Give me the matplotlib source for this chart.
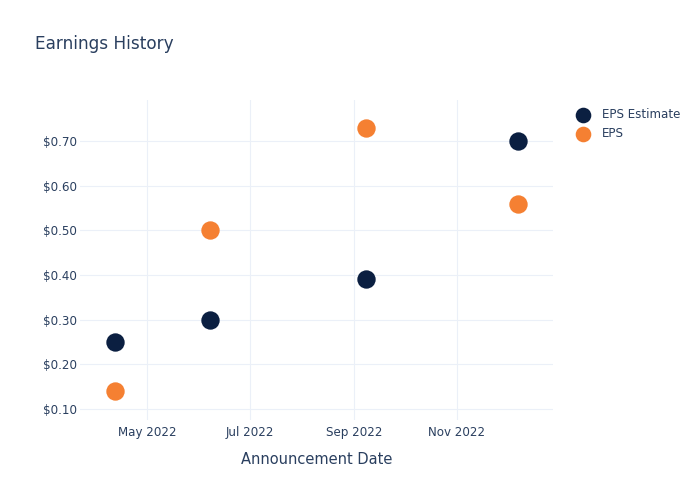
import datetime as dt
import matplotlib
matplotlib.use("Agg")
import matplotlib.pyplot as plt
import matplotlib.dates as mdates
from matplotlib.ticker import FuncFormatter

dates = [dt.date(2022, 4, 12), dt.date(2022, 6, 7), dt.date(2022, 9, 8), dt.date(2022, 12, 7)]
eps_estimate = [0.25, 0.30, 0.39, 0.70]
eps_actual = [0.14, 0.50, 0.73, 0.56]

text_color = '#2a3f5f'
grid_color = '#ebf0f8'

fig = plt.figure(figsize=(7, 5), dpi=100)
ax = fig.add_axes([80 / 700, 0.16, (553 - 80) / 700, 0.64])

ax.scatter(dates, eps_estimate, s=175, color='#0b1f41', label='EPS Estimate', zorder=3, linewidths=0)
ax.scatter(dates, eps_actual, s=175, color='#f58032', label='EPS', zorder=3, linewidths=0)

ax.set_xlim(dt.date(2022, 3, 22), dt.date(2022, 12, 28))
ax.set_ylim(0.075, 0.792)

ax.xaxis.set_major_locator(mdates.MonthLocator(bymonth=[5, 7, 9, 11]))
ax.xaxis.set_major_formatter(mdates.DateFormatter('%b %Y'))
ax.set_yticks([0.1, 0.2, 0.3, 0.4, 0.5, 0.6, 0.7])
ax.yaxis.set_major_formatter(FuncFormatter(lambda v, p: '${:.2f}'.format(v)))

ax.grid(True, color=grid_color, linewidth=0.8)
ax.set_axisbelow(True)
for s in ax.spines.values():
    s.set_visible(False)
ax.tick_params(length=0, labelsize=8.6, colors=text_color)
ax.tick_params(axis='y', pad=2)
ax.tick_params(axis='x', pad=4)

ax.set_xlabel('Announcement Date', fontsize=10.5, color=text_color, labelpad=10)
fig.text(35 / 700, 1 - 44 / 500, 'Earnings History', fontsize=12.2, color=text_color, va='center')

ax.legend(loc='upper left', bbox_to_anchor=(1.02, 1.0), frameon=False, fontsize=8.6,
          labelcolor=text_color, handletextpad=0.6, markerscale=0.85, borderaxespad=0.3)

fig.savefig('out.png', dpi=100)
